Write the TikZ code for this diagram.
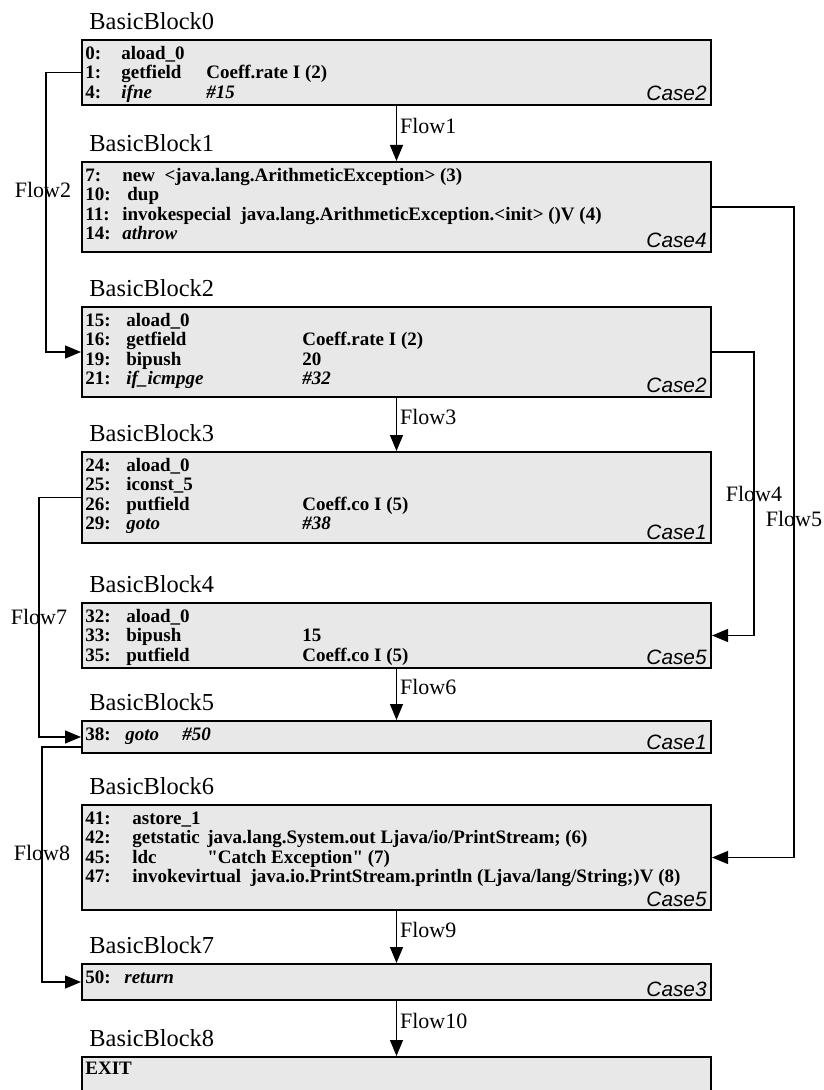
\documentclass[tikz,border=0pt]{standalone}
\usepackage{fontspec}
\setmainfont{Liberation Serif}
\setsansfont{Liberation Sans}
\usepackage{array}
\usetikzlibrary{arrows.meta, positioning, calc}
\definecolor{blockgray}{RGB}{232,232,232}

\tikzset{
  block/.style={draw=black, line width=1pt, fill=blockgray,
                minimum width=314.5pt, inner sep=0pt},
  code/.style={anchor=north west, inner sep=0pt,
               font=\fontsize{9.5}{9.75}\selectfont\bfseries},
  bblabel/.style={anchor=base west, inner sep=0pt,
                  font=\fontsize{12.2}{14}\selectfont},
  caselabel/.style={anchor=base east, inner sep=0pt,
                    font=\fontsize{10.4}{12}\selectfont\sffamily\itshape},
  flow/.style={draw, line width=0.6pt, -{Triangle[length=8pt,width=6.5pt]}},
  flowlabel/.style={inner sep=0pt, font=\fontsize{11}{13}\selectfont}
}

\begin{document}
\begin{tikzpicture}[x=0.5pt, y=-0.5pt]
  \useasboundingbox (0,0) rectangle (823,1090);

  % basic blocks
  \node[block, minimum height=32.5pt] (b0) at (396.5,72.5) {};
  \node[block, minimum height=45pt]   (b1) at (396.5,207) {};
  \node[block, minimum height=45pt]   (b2) at (396.5,352) {};
  \node[block, minimum height=45.5pt] (b3) at (396.5,497.5) {};
  \node[block, minimum height=32.5pt] (b4) at (396.5,635.5) {};
  \node[block, minimum height=16pt]   (b5) at (396.5,737) {};
  \node[block, minimum height=52.5pt] (b6) at (396.5,857.5) {};
  \node[block, minimum height=18pt]   (b7) at (396.5,982) {};
  \node[block, minimum height=22pt]   (b8) at (396.5,1079) {};

  % block names
  \foreach \i in {0,...,8}
    \node[bblabel] (l\i) at ([shift={(8,-9.5)}]b\i.north west) {BasicBlock\i};

  % byte code
  \node[code] (c0) at ([shift={(4,6)}]b0.north west) {%
    \begin{tabular}{@{}p{18pt}@{}p{42.5pt}@{}l@{}}
      0: & aload\_0 & \\
      1: & getfield & Coeff.rate I (2)\\
      4: & \textit{ifne} & \textit{\#15}
    \end{tabular}};
  \node[code] (c1) at ([shift={(4,6)}]b1.north west) {%
    \begin{tabular}{@{}p{18.5pt}@{}l@{}}
      7: & new\ \ <java.lang.ArithmeticException> (3)\\
      10: & \hspace{2.5pt}dup\\
      11: & invokespecial\ \ java.lang.ArithmeticException.<init> ()V (4)\\
      14: & \textit{athrow}
    \end{tabular}};
  \node[code] (c2) at ([shift={(4,6)}]b2.north west) {%
    \begin{tabular}{@{}p{20.5pt}@{}p{88pt}@{}l@{}}
      15: & aload\_0 & \\
      16: & getfield & Coeff.rate I (2)\\
      19: & bipush & 20\\
      21: & \textit{if\_icmpge} & \textit{\#32}
    \end{tabular}};
  \node[code] (c3) at ([shift={(4,6)}]b3.north west) {%
    \begin{tabular}{@{}p{20.5pt}@{}p{88pt}@{}l@{}}
      24: & aload\_0 & \\
      25: & iconst\_5 & \\
      26: & putfield & Coeff.co I (5)\\
      29: & \textit{goto} & \textit{\#38}
    \end{tabular}};
  \node[code] (c4) at ([shift={(4,6)}]b4.north west) {%
    \begin{tabular}{@{}p{20.5pt}@{}p{88pt}@{}l@{}}
      32: & aload\_0 & \\
      33: & bipush & 15\\
      35: & putfield & Coeff.co I (5)
    \end{tabular}};
  \node[code] (c5) at ([shift={(4,6)}]b5.north west) {%
    \begin{tabular}{@{}p{20pt}@{}p{28.5pt}@{}l@{}}
      38: & \textit{goto} & \textit{\#50}
    \end{tabular}};
  \node[code] (c6) at ([shift={(4,6)}]b6.north west) {%
    \begin{tabular}{@{}p{23.5pt}@{}p{37.5pt}@{}l@{}}
      41: & astore\_1 & \\
      42: & getstatic & java.lang.System.out Ljava/io/PrintStream; (6)\\
      45: & ldc & \textquotedbl Catch Exception\textquotedbl{} (7)\\
      47: & \multicolumn{2}{@{}l@{}}{invokevirtual\ \ java.io.PrintStream.println (Ljava/lang/String;)V (8)}
    \end{tabular}};
  \node[code] (c7) at ([shift={(4,6)}]b7.north west) {%
    \begin{tabular}{@{}p{19.5pt}@{}l@{}}
      50: & \textit{return}
    \end{tabular}};
  \node[code] (c8) at ([shift={(4,6)}]b8.north west) {EXIT};

  % case tags
  \node[caselabel] (k0) at ([shift={(-5,-5)}]b0.south east) {Case2};
  \node[caselabel] (k1) at ([shift={(-5,-5)}]b1.south east) {Case4};
  \node[caselabel] (k2) at ([shift={(-5,-5)}]b2.south east) {Case2};
  \node[caselabel] (k3) at ([shift={(-5,-5)}]b3.south east) {Case1};
  \node[caselabel] (k4) at ([shift={(-5,-5)}]b4.south east) {Case5};
  \node[caselabel] (k5) at ([shift={(-5,-5)}]b5.south east) {Case1};
  \node[caselabel] (k6) at ([shift={(-5,-5)}]b6.south east) {Case5};
  \node[caselabel] (k7) at ([shift={(-5,-5)}]b7.south east) {Case3};

  % straight flows
  \draw[flow] (b0) -- node[flowlabel, pos=0.5, anchor=base west, xshift=1.5pt] (f1) {Flow1} (b1);
  \draw[flow] (b2) -- node[flowlabel, pos=0.5, anchor=base west, xshift=1.5pt] (f3) {Flow3} (b3);
  \draw[flow] (b4) -- node[flowlabel, pos=0.5, anchor=base west, xshift=1.5pt] (f6) {Flow6} (b5);
  \draw[flow] (b6) -- node[flowlabel, pos=0.5, anchor=base west, xshift=1.5pt] (f9) {Flow9} (b7);
  \draw[flow] (b7) -- node[flowlabel, pos=0.5, anchor=base west, xshift=1.5pt] (f10) {Flow10} (b8);

  % jumps on the left
  \draw[flow] (b0.west) -- ++(-35,0) |- node[flowlabel, pos=0.21, xshift=-1.5pt] (f2) {Flow2} (b2.west);
  \draw[flow] (b3.west) -- ++(-42,0) |- node[flowlabel, pos=0.25] (f7) {Flow7} (b5.west);
  \draw[flow] ([yshift=-5pt]b5.west) -- ++(-39,0) |- node[flowlabel, pos=0.225] (f8) {Flow8} (b7.west);

  % jumps on the right
  \draw[flow] (b2.east) -- ++(42,0) |- node[flowlabel, pos=0.25] (f4) {Flow4} (b4.east);
  \draw[flow] (b1.east) -- ++(82,0) |- node[flowlabel, pos=0.24] (f5) {Flow5} (b6.east);
\end{tikzpicture}
\end{document}
